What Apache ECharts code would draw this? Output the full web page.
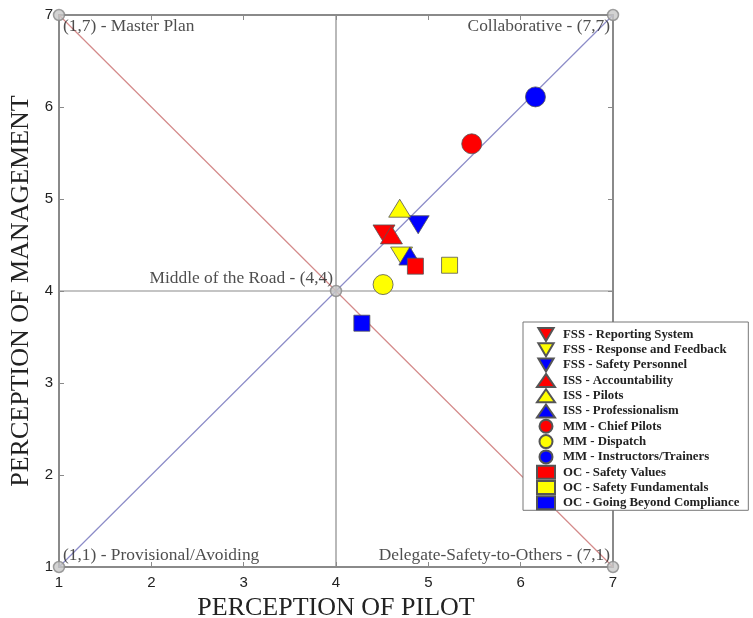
<!DOCTYPE html>
<html>
<head>
<meta charset="utf-8">
<title>Perception of Pilot vs. Perception of Management</title>
<script src="https://cdn.jsdelivr.net/npm/echarts@6/dist/echarts.min.js"></script>
<style>
  html, body { margin: 0; padding: 0; background: #ffffff; }
  #chart { width: 753px; height: 618px; }
</style>
</head>
<body>
<div id="chart"></div>
<script>
// Survey factor scores: pilot perception (x) vs. management perception (y)
const factorNames = [
  'FSS - Reporting System',
  'FSS - Response and Feedback',
  'FSS - Safety Personnel',
  'ISS - Accountability',
  'ISS - Pilots',
  'ISS - Professionalism',
  'MM - Chief Pilots',
  'MM - Dispatch',
  'MM - Instructors/Trainers',
  'OC - Safety Values',
  'OC - Safety Fundamentals',
  'OC - Going Beyond Compliance'
];
const pilotScores      = [4.52, 4.71, 4.89, 4.60, 4.69, 4.80, 5.47, 4.51, 6.16, 4.86, 5.23, 4.28];
const managementScores = [4.62, 4.38, 4.72, 4.61, 4.90, 4.38, 5.60, 4.07, 6.11, 4.27, 4.28, 3.65];

// Reference points of the grid and their descriptions
const anchorPoints = [[1, 7], [7, 7], [4, 4], [1, 1], [7, 1]];
const anchorLabels = [
  '(1,7) - Master Plan',
  'Collaborative - (7,7)',
  'Middle of the Road - (4,4)',
  '(1,1) - Provisional/Avoiding',
  'Delegate-Safety-to-Others - (7,1)'
];
const axisTicks = [1, 2, 3, 4, 5, 6, 7];
const scaleMin = 1, scaleMax = 7, scaleMid = 4;

// Marker appearance per factor
const DOWN = 'path://M0,0L20,0L10,17Z';
const markerShapes = [DOWN, DOWN, DOWN, 'triangle', 'triangle', 'triangle',
                      'circle', 'circle', 'circle', 'rect', 'rect', 'rect'];
const markerColors = ['#ff0000', '#ffff00', '#0000ff', '#ff0000', '#ffff00', '#0000ff',
                      '#ff0000', '#ffff00', '#0000ff', '#ff0000', '#ffff00', '#0000ff'];
function markerSize(shape) {
  if (shape === 'circle') return 20;
  if (shape === 'rect') return 16;
  return [22, 18];
}

const serif = '"Liberation Serif", "Times New Roman", serif';
const sans = '"Liberation Sans", Arial, sans-serif';
const frameColor = '#8a8a8a';

const factorSeries = factorNames.map((name, i) => ({
  name: name,
  type: 'scatter',
  z: 5,
  symbol: markerShapes[i],
  symbolSize: markerSize(markerShapes[i]),
  itemStyle: { color: markerColors[i], borderColor: '#555555', borderWidth: 0.8, opacity: 1 },
  data: [[pilotScores[i], managementScores[i]]]
}));

// Text placement around each reference point (offset from the point centre)
const labelPlacement = [
  { offset: [4, 11], align: 'left' },
  { offset: [-3, 11], align: 'right' },
  { offset: [-3, -13], align: 'right' },
  { offset: [4, -12], align: 'left' },
  { offset: [-3, -12], align: 'right' }
];

const guideLine = (pts, color) => ({
  type: 'line',
  silent: true,
  symbol: 'none',
  z: 2,
  lineStyle: { color: color, width: 1.2 },
  data: pts
});

const option = {
  animation: false,
  backgroundColor: '#ffffff',
  grid: { left: 59, right: 140, top: 15, bottom: 51, outerBoundsMode: 'none', containLabel: false },
  xAxis: [{
    type: 'value', min: scaleMin, max: scaleMax, interval: 1, position: 'bottom',
    name: 'PERCEPTION OF PILOT', nameLocation: 'middle', nameGap: 19,
    nameTextStyle: { fontFamily: serif, fontSize: 26, color: '#222222' },
    axisLine: { show: true, onZero: false, lineStyle: { color: frameColor, width: 2 } },
    axisTick: { show: true, inside: true, length: 5, lineStyle: { color: frameColor } },
    axisLabel: { show: true, fontFamily: sans, fontSize: 15, color: '#222222', margin: 8,
                 formatter: v => axisTicks.includes(v) ? String(v) : '' },
    splitLine: { show: false }
  }, {
    type: 'value', min: scaleMin, max: scaleMax, interval: 1, position: 'top',
    axisLine: { show: true, onZero: false, lineStyle: { color: frameColor, width: 2 } },
    axisTick: { show: true, inside: true, length: 5, lineStyle: { color: frameColor } },
    axisLabel: { show: false }, splitLine: { show: false }
  }],
  yAxis: [{
    type: 'value', min: scaleMin, max: scaleMax, interval: 1, position: 'left',
    name: 'PERCEPTION OF MANAGEMENT', nameLocation: 'middle', nameGap: 20, nameRotate: 90,
    nameTextStyle: { fontFamily: serif, fontSize: 26, color: '#222222' },
    axisLine: { show: true, onZero: false, lineStyle: { color: frameColor, width: 2 } },
    axisTick: { show: true, inside: true, length: 5, lineStyle: { color: frameColor } },
    axisLabel: { show: true, fontFamily: sans, fontSize: 15, color: '#222222', margin: 6,
                 formatter: v => axisTicks.includes(v) ? String(v) : '' },
    splitLine: { show: false }
  }, {
    type: 'value', min: scaleMin, max: scaleMax, interval: 1, position: 'right',
    axisLine: { show: true, onZero: false, lineStyle: { color: frameColor, width: 2 } },
    axisTick: { show: true, inside: true, length: 5, lineStyle: { color: frameColor } },
    axisLabel: { show: false }, splitLine: { show: false }
  }],
  legend: {
    data: factorNames,
    orient: 'vertical',
    left: 523, top: 322,
    padding: [5, 9, 0, 13],
    itemWidth: 18, itemHeight: 13, itemGap: 0.3,
    backgroundColor: '#ffffff',
    borderColor: '#777777', borderWidth: 1,
    textStyle: { fontFamily: serif, fontSize: 12.8, fontWeight: 'bold', color: '#222222',
                 padding: [0, 0, 0, 3] },
    selectedMode: false
  },
  series: [
    guideLine([[scaleMin, scaleMin], [scaleMax, scaleMax]], '#8c8cc8'),
    guideLine([[scaleMin, scaleMax], [scaleMax, scaleMin]], '#d48a8a'),
    guideLine([[scaleMid, scaleMin], [scaleMid, scaleMax]], '#8a8a8a'),
    guideLine([[scaleMin, scaleMid], [scaleMax, scaleMid]], '#8a8a8a'),
    {
      name: 'anchors',
      type: 'scatter',
      silent: true,
      clip: false,
      z: 4,
      symbol: 'circle',
      symbolSize: 11,
      itemStyle: { color: '#c8c8c8', borderColor: '#888888', borderWidth: 1.5 },
      data: anchorPoints.map((p, i) => ({
        value: p,
        label: {
          show: true,
          formatter: anchorLabels[i],
          position: 'inside',
          offset: labelPlacement[i].offset,
          align: labelPlacement[i].align,
          verticalAlign: 'middle',
          fontFamily: serif,
          fontSize: 17.4,
          color: '#222222'
        }
      }))
    },
    ...factorSeries
  ]
};

const chart = echarts.init(document.getElementById('chart'), null, { renderer: 'canvas' });
chart.setOption(option);
</script>
</body>
</html>
